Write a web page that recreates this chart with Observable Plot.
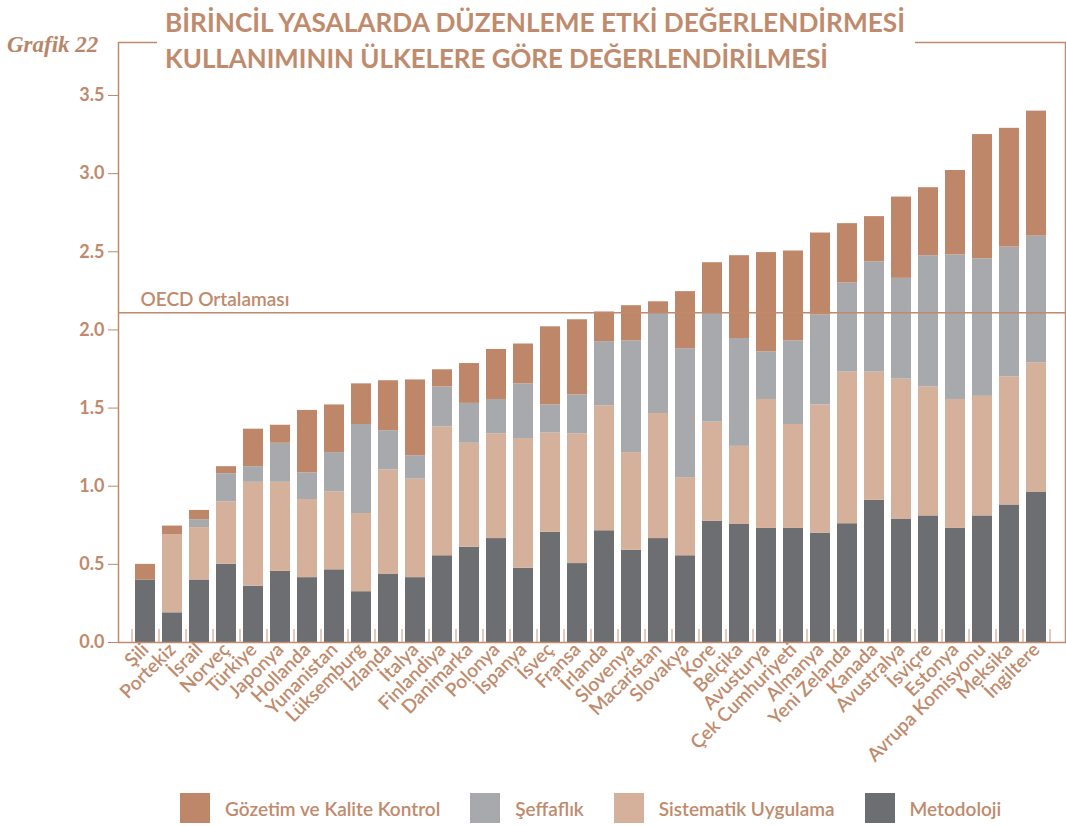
<!DOCTYPE html>
<html><head><meta charset="utf-8">
<script src="https://cdn.jsdelivr.net/npm/d3@7"></script>
<script src="https://cdn.jsdelivr.net/npm/@observablehq/plot@0.6"></script>
<style>
body{margin:0;background:#fff;}
#wrap{position:relative;width:1066px;height:826px;overflow:hidden;font-family:Lato,sans-serif;}
#grafik{position:absolute;left:7px;top:32px;font-family:"Liberation Serif",serif;font-style:italic;font-weight:bold;font-size:23px;color:#b8876a;}
#title{position:absolute;left:157px;top:4px;width:758px;height:76px;background:#fff;padding-left:8px;box-sizing:border-box;}
.tl{font-family:Lato,sans-serif;font-weight:700;font-size:27px;color:#c08a6c;white-space:nowrap;line-height:36px;transform-origin:0 50%;}
#legend{position:absolute;left:180px;top:793px;display:flex;gap:30px;align-items:center;}
.item{display:flex;align-items:center;gap:15px;font-size:19px;color:#c08a6c;font-weight:600;}
.sw{width:30px;height:30px;}
</style></head><body><div id="wrap">
<div id="plot"></div>
<div id="grafik">Grafik 22</div>
<div id="title">
<div class="tl" id="t1">BİRİNCİL YASALARDA DÜZENLEME ETKİ DEĞERLENDİRMESİ</div>
<div class="tl" id="t2">KULLANIMININ ÜLKELERE GÖRE DEĞERLENDİRİLMESİ</div>
</div>
<div id="legend"></div>
</div>
<script>
const countries = ["Şili","Portekiz","İsrail","Norveç","Türkiye","Japonya","Hollanda","Yunanistan","Lüksemburg","İzlanda","İtalya","Finlandiya","Danimarka","Polonya","İspanya","İsveç","Fransa","İrlanda","Slovenya","Macaristan","Slovakya","Kore","Belçika","Avusturya","Çek Cumhuriyeti","Almanya","Yeni Zelanda","Kanada","Avustralya","İsviçre","Estonya","Avrupa Komisyonu","Meksika","İngiltere"];
const metodoloji = [0.40,0.19,0.40,0.50,0.36,0.455,0.415,0.465,0.325,0.435,0.415,0.555,0.61,0.665,0.475,0.705,0.505,0.715,0.59,0.665,0.555,0.775,0.755,0.73,0.73,0.70,0.76,0.91,0.79,0.81,0.73,0.81,0.88,0.96];
const sistematik = [0.00,0.50,0.335,0.40,0.665,0.57,0.50,0.50,0.50,0.67,0.63,0.825,0.665,0.67,0.83,0.635,0.83,0.80,0.625,0.80,0.50,0.635,0.50,0.825,0.665,0.82,0.97,0.82,0.895,0.825,0.825,0.765,0.82,0.83];
const seffaflik = [0.00,0.00,0.05,0.18,0.10,0.25,0.17,0.25,0.57,0.25,0.15,0.255,0.255,0.22,0.35,0.18,0.25,0.41,0.715,0.64,0.825,0.70,0.69,0.305,0.535,0.575,0.57,0.705,0.645,0.84,0.925,0.88,0.83,0.81];
const gozetim = [0.10,0.055,0.06,0.045,0.24,0.115,0.40,0.305,0.26,0.32,0.485,0.11,0.255,0.32,0.255,0.50,0.48,0.19,0.225,0.075,0.365,0.32,0.53,0.635,0.575,0.525,0.38,0.29,0.52,0.435,0.54,0.795,0.76,0.80];
const seriesNames = ["Gözetim ve Kalite Kontrol","Şeffaflık","Sistematik Uygulama","Metodoloji"];
const seriesColors = ["#bf8769","#a8a9ad","#d5b09a","#6d6e72"];
const stackOrder = ["Metodoloji","Sistematik Uygulama","Şeffaflık","Gözetim ve Kalite Kontrol"];
const yTicks = [0,0.5,1,1.5,2,2.5,3,3.5];
const oecdAvg = 2.11;
const oecdLabel = "OECD Ortalaması";

const tan = "#c08a6c";
const seriesValues = {"Metodoloji": metodoloji, "Sistematik Uygulama": sistematik, "Şeffaflık": seffaflik, "Gözetim ve Kalite Kontrol": gozetim};
const rows = [];
countries.forEach((c, i) => {
  for (const s of stackOrder) rows.push({country: c, series: s, value: seriesValues[s][i]});
});

const chart = Plot.plot({
  width: 1066, height: 780,
  marginLeft: 118, marginRight: 1, marginTop: 42, marginBottom: 138,
  style: {fontFamily: "Lato, sans-serif", background: "transparent", overflow: "visible"},
  x: {domain: countries, paddingInner: 0.26, paddingOuter: 0.13, insetLeft: 13.5, insetRight: 15.5, label: null},
  y: {domain: [0, 3.5], insetTop: 53, label: null},
  color: {domain: seriesNames, range: seriesColors},
  marks: [
    Plot.barY(rows, {x: "country", y: "value", fill: "series", order: stackOrder}),
    Plot.ruleY([oecdAvg], {stroke: tan, strokeWidth: 1.5}),
    Plot.text([oecdAvg], {y: d => d, frameAnchor: "left", textAnchor: "start", dx: 22, dy: -13, text: () => oecdLabel, fill: tan, fontSize: 19, fontWeight: 600}),
    Plot.axisY({ticks: yTicks, tickSize: 10, tickPadding: 4, tickFormat: d3.format(".1f"), color: tan, fontSize: 18, fontWeight: 700, label: null}),
    Plot.axisX({tickSize: 0, tickRotate: -45, tickPadding: 4, color: tan, fontSize: 19, fontWeight: 600, label: null}),
    Plot.ruleX(countries, {x: d => d, dx: -13.5, y1: 0, y2: 0, insetTop: -13, stroke: "#dbb9a4", strokeWidth: 1.5}),
    Plot.ruleX([countries[countries.length - 1]], {x: d => d, dx: 13.5, y1: 0, y2: 0, insetTop: -13, stroke: "#dbb9a4", strokeWidth: 1.5}),
    Plot.frame({stroke: tan, strokeWidth: 1.5})
  ]
});
document.getElementById("plot").appendChild(chart);

// fit title lines to the reference widths
[["t1", 740], ["t2", 663]].forEach(([id, w]) => {
  const el = document.getElementById(id);
  el.style.display = "inline-block";
  const nat = el.getBoundingClientRect().width;
  el.style.transform = `scaleX(${w / nat})`;
  el.style.display = "block";
});

const legend = document.getElementById("legend");
seriesNames.forEach((n, i) => {
  const it = document.createElement("div");
  it.className = "item";
  it.innerHTML = `<div class="sw" style="background:${seriesColors[i]}"></div><span>${n}</span>`;
  legend.appendChild(it);
});
</script>
</body></html>
